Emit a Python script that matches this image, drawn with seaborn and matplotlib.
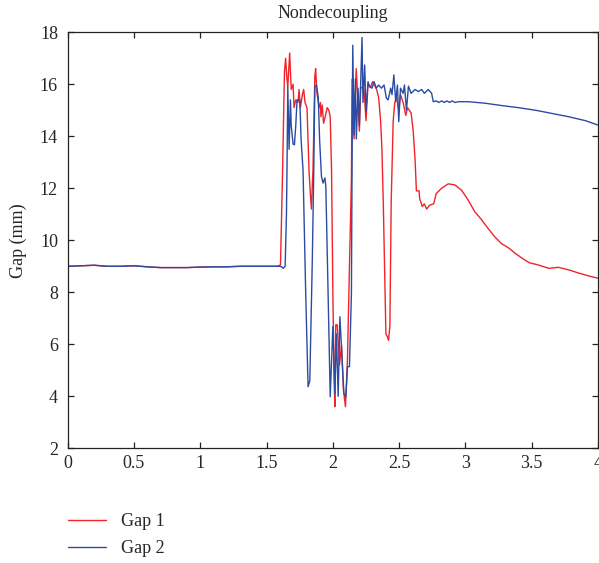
import matplotlib
matplotlib.use("Agg")
import matplotlib.pyplot as plt
import seaborn as sns
import pandas as pd

# ---------------- data ----------------
flat_t = [0.0, 0.1, 0.2, 0.3, 0.4, 0.5, 0.6, 0.7, 0.8, 0.9, 1.0, 1.1, 1.2, 1.3, 1.4, 1.5, 1.58]
flat_mm = [9.0, 9.02, 9.04, 9.0, 9.0, 9.02, 8.98, 8.95, 8.95, 8.95, 8.97, 8.98, 8.98, 9.0, 9.0, 9.0, 9.0]

gap1_t = flat_t + [
    1.605, 1.62, 1.635, 1.644, 1.652, 1.66, 1.674, 1.686, 1.70, 1.707, 1.72, 1.737, 1.745, 1.755,
    1.77, 1.78, 1.79, 1.805, 1.82, 1.83, 1.838, 1.85, 1.864, 1.87, 1.88, 1.896, 1.906, 1.91,
    1.92, 1.93, 1.94, 1.957, 1.97, 1.98, 1.99, 2.0, 2.008, 2.015, 2.022, 2.033, 2.05, 2.065,
    2.08, 2.095, 2.11, 2.126, 2.14, 2.145, 2.16, 2.176, 2.19, 2.20, 2.21, 2.235, 2.25, 2.265,
    2.285, 2.30, 2.33, 2.345, 2.36, 2.37, 2.38, 2.40, 2.41, 2.42, 2.43, 2.44, 2.455, 2.467,
    2.48, 2.497, 2.51, 2.53, 2.55, 2.563, 2.59, 2.606, 2.62, 2.63, 2.65, 2.655, 2.674, 2.69,
    2.707, 2.73, 2.76, 2.78, 2.82, 2.87, 2.92, 2.97, 3.02, 3.07, 3.12, 3.17, 3.22, 3.27,
    3.33, 3.375, 3.43, 3.48, 3.55, 3.63, 3.70, 3.78, 3.86, 3.93, 4.0]
gap1_mm = flat_mm + [
    9.05, 12.5, 16.5, 17.0, 16.3, 15.9, 17.2, 15.8, 16.0, 15.1, 15.4, 15.3, 15.8, 15.1,
    15.6, 15.8, 15.3, 15.1, 12.7, 11.8, 11.2, 12.7, 16.3, 16.6, 15.65, 15.1, 15.3, 14.75,
    15.2, 14.5, 14.7, 15.1, 15.0, 14.75, 12.7, 8.0, 5.0, 3.6, 6.75, 6.75, 5.2, 5.97,
    4.24, 3.6, 5.4, 9.2, 12.4, 16.2, 13.9, 16.6, 15.3, 14.2, 15.9, 15.8, 14.6, 16.0,
    15.9, 16.1, 15.8, 15.5, 14.6, 13.5, 11.5, 6.4, 6.3, 6.15, 6.7, 11.5, 14.6, 15.3,
    15.5, 15.0, 15.6, 15.3, 14.8, 15.1, 14.9, 14.2, 13.1, 11.9, 11.9, 11.6, 11.3, 11.4,
    11.2, 11.35, 11.4, 11.8, 12.0, 12.17, 12.13, 11.93, 11.55, 11.1, 10.8, 10.46, 10.14, 9.88,
    9.69, 9.5, 9.3, 9.14, 9.05, 8.92, 8.96, 8.86, 8.73, 8.63, 8.54]

gap2_t = flat_t + [
    1.6, 1.615, 1.625, 1.64, 1.65, 1.654, 1.66, 1.67, 1.68, 1.686, 1.70, 1.71, 1.72, 1.73,
    1.75, 1.755, 1.76, 1.775, 1.795, 1.813, 1.826, 1.845, 1.856, 1.864, 1.876, 1.89, 1.90,
    1.914, 1.926, 1.94, 1.947, 1.964, 1.98, 2.0, 2.015, 2.027, 2.04, 2.053, 2.065, 2.083,
    2.098, 2.11, 2.125, 2.14, 2.145, 2.15, 2.16, 2.17, 2.177, 2.19, 2.20, 2.22, 2.227, 2.24,
    2.25, 2.265, 2.277, 2.295, 2.31, 2.328, 2.345, 2.366, 2.386, 2.404, 2.417, 2.436, 2.446,
    2.46, 2.474, 2.487, 2.497, 2.51, 2.53, 2.54, 2.555, 2.57, 2.59, 2.62, 2.645, 2.67, 2.69,
    2.72, 2.745, 2.757, 2.78, 2.80, 2.82, 2.84, 2.86, 2.88, 2.90, 2.92, 2.95, 3.02, 3.15,
    3.275, 3.40, 3.53, 3.65, 3.78, 3.905, 4.0]
gap2_mm = flat_mm + [
    9.0, 8.98, 8.92, 9.0, 11.0, 12.7, 15.9, 13.5, 15.4, 14.4, 13.7, 13.67, 14.4, 15.4,
    15.4, 14.75, 13.9, 12.7, 8.0, 4.37, 4.6, 9.24, 12.7, 15.9, 15.97, 15.5, 13.86,
    12.45, 12.2, 12.4, 12.06, 7.96, 3.98, 6.68, 4.1, 6.4, 4.0, 7.06, 5.9, 4.1,
    3.98, 5.14, 5.14, 7.96, 13.1, 17.5, 14.05, 16.2, 13.9, 15.85, 14.4, 17.8, 15.3, 16.74,
    14.95, 16.1, 15.9, 15.85, 16.1, 15.85, 15.97, 15.85, 15.97, 15.46, 15.4, 15.85, 15.6,
    16.36, 15.33, 15.97, 14.56, 15.85, 15.65, 15.97, 15.0, 15.93, 15.65, 15.8, 15.72, 15.8, 15.65,
    15.8, 15.65, 15.33, 15.36, 15.3, 15.36, 15.3, 15.36, 15.3, 15.36, 15.3, 15.33, 15.33, 15.27,
    15.18, 15.1, 15.0, 14.88, 14.75, 14.6, 14.43]

series_names = ["Gap 1", "Gap 2"]
series_colors = ["#f0242a", "#2b4ca2"]
x_ticks = [0, 0.5, 1, 1.5, 2, 2.5, 3, 3.5, 4]
x_tick_labels = ["0", "0.5", "1", "1.5", "2", "2.5", "3", "3.5", "4"]
y_ticks = [2, 4, 6, 8, 10, 12, 14, 16, 18]

df = pd.concat([
    pd.DataFrame({"t": gap1_t, "gap": gap1_mm, "series": series_names[0]}),
    pd.DataFrame({"t": gap2_t, "gap": gap2_mm, "series": series_names[1]}),
], ignore_index=True)

# ---------------- style ----------------
sns.set_style("ticks")
plt.rcParams["font.family"] = ["Liberation Serif", "DejaVu Serif"]
plt.rcParams["font.size"] = 13

fig = plt.figure(figsize=(5.99, 5.63), dpi=100)
ax = fig.add_axes([0.113, 0.2037, 0.8854, 0.739])

sns.lineplot(data=df, x="t", y="gap", hue="series", palette=series_colors,
             sort=False, estimator=None, linewidth=1.0, ax=ax, legend=False)

ax.set_xlim(0, 4)
ax.set_ylim(2, 18)
ax.set_xticks(x_ticks)
ax.set_xticklabels(x_tick_labels)
ax.set_yticks(y_ticks)
for s in ax.spines.values():
    s.set_visible(True)
    s.set_color("#222222")
    s.set_linewidth(0.9)
ax.tick_params(axis="both", direction="in", length=4, width=0.9, color="#222222",
               top=True, right=True, labelsize=13)
ax.tick_params(axis="x", pad=5)
ax.tick_params(axis="y", pad=7)
ax.set_xlabel("")
ax.set_ylabel("Gap (mm)", fontsize=13, labelpad=9)
ax.set_title("Nondecoupling", fontsize=13, pad=10)

handles = [plt.Line2D([], [], color=c, linewidth=1.0) for c in series_colors]
fig.legend(handles, series_names, loc="upper left", bbox_to_anchor=(0.113, 0.088),
           frameon=False, borderpad=0, borderaxespad=0, handlelength=2.1,
           handletextpad=0.85, labelspacing=0.55, fontsize=13)

fig.savefig("out.png", dpi=100)
